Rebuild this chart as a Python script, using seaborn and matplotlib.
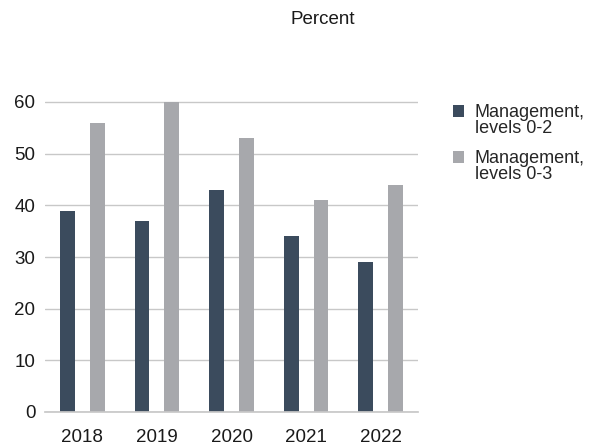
import matplotlib
matplotlib.use("Agg")
import matplotlib.pyplot as plt
import seaborn as sns
import pandas as pd
from matplotlib.patches import Patch, Rectangle
from matplotlib.legend_handler import HandlerPatch

years = ["2018", "2019", "2020", "2021", "2022"]
series_names = ["Management,\nlevels 0-2", "Management,\nlevels 0-3"]
levels_0_2 = [39, 37, 43, 34, 29]
levels_0_3 = [56, 60, 53, 41, 44]
colors = ["#3b4b5d", "#a7a8ac"]

df = pd.DataFrame({
    "year": years * 2,
    "value": levels_0_2 + levels_0_3,
    "series": [series_names[0]] * len(years) + [series_names[1]] * len(years),
})

sns.set_theme(style="white")
plt.rcParams["font.family"] = ["Liberation Sans", "DejaVu Sans"]

fig = plt.figure(figsize=(5.93, 4.46), dpi=100)
ax = fig.add_axes([45 / 593, 1 - 412 / 446, 373 / 593, 310 / 446 * 64 / 60])

sns.barplot(data=df, x="year", y="value", hue="series", palette=colors,
            width=0.8, gap=0.5, ax=ax, legend=False, saturation=1, linewidth=0)

ax.set_ylim(0, 64)
ax.set_xlim(-0.5, len(years) - 0.5)
ax.set_yticks([0, 10, 20, 30, 40, 50, 60])
ax.yaxis.grid(True, color="#c8c8c8", linewidth=1)
ax.set_axisbelow(True)
ax.set_xlabel("")
ax.set_ylabel("")
for s in ["top", "right", "left"]:
    ax.spines[s].set_visible(False)
ax.spines["bottom"].set_color("#c8c8c8")
ax.tick_params(axis="both", length=0, labelsize=13.5, colors="#1a1a1a")
ax.tick_params(axis="y", pad=7)
ax.tick_params(axis="x", pad=12)


def top_square(legend, orig_handle, xdescent, ydescent, width, height, fontsize):
    return Rectangle((-xdescent, -ydescent + fontsize * 0.55), width, height)


handles = [Patch(facecolor=c, edgecolor="none") for c in colors]
fig.legend(handles, series_names, loc="upper left", bbox_to_anchor=(437 / 593, 1 - 88 / 446),
           frameon=False, fontsize=13, handlelength=0.6, handleheight=0.6,
           handletextpad=0.6, labelspacing=0.75,
           handler_map={Patch: HandlerPatch(patch_func=top_square)})
for t in fig.legends[0].get_texts():
    t.set_linespacing(0.9)

fig.text(323 / 593, 1 - 20 / 446, "Percent", ha="center", va="center", fontsize=13.5, color="#1a1a1a")

fig.savefig("out.png", dpi=100)
